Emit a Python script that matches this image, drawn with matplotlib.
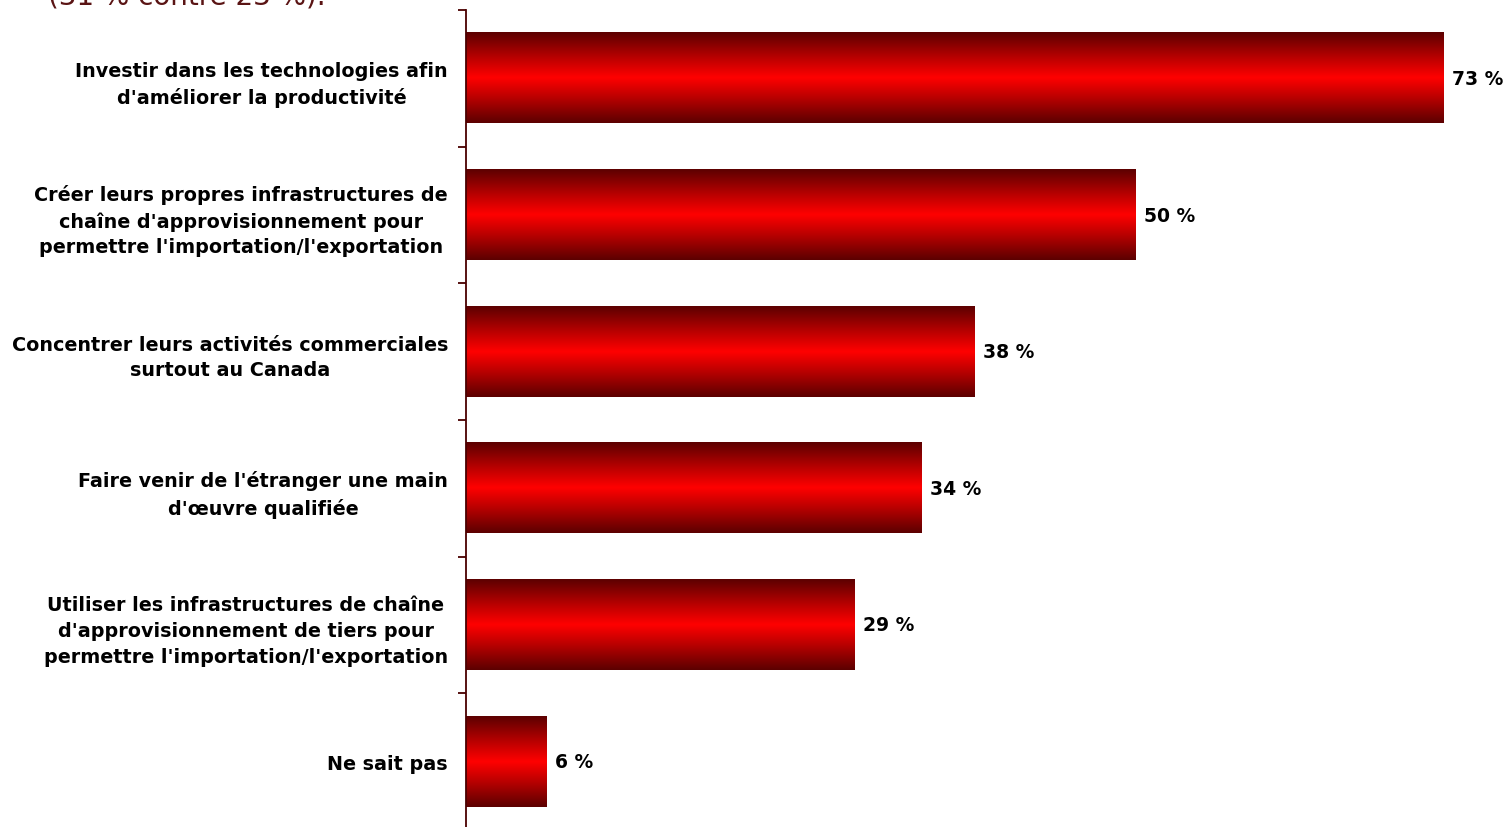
import numpy as np
import matplotlib
matplotlib.use("Agg")
import matplotlib.pyplot as plt
from matplotlib.colors import LinearSegmentedColormap

categories = [
    "Investir dans les technologies afin\nd'améliorer la productivité",
    "Créer leurs propres infrastructures de\nchaîne d'approvisionnement pour\npermettre l'importation/l'exportation",
    "Concentrer leurs activités commerciales\nsurtout au Canada",
    "Faire venir de l'étranger une main\nd'œuvre qualifiée",
    "Utiliser les infrastructures de chaîne\nd'approvisionnement de tiers pour\npermettre l'importation/l'exportation",
    "Ne sait pas",
]
values = [73, 50, 38, 34, 29, 6]
value_labels = ["73 %", "50 %", "38 %", "34 %", "29 %", "6 %"]
header = "(31 % contre 23 %)."

AXIS_COL = "#4a0000"
grad = LinearSegmentedColormap.from_list(
    "bar", [(0, "#5c0000"), (0.3, "#c00000"), (0.5, "#ff0000"),
            (0.7, "#c00000"), (1, "#5c0000")])

fig = plt.figure(figsize=(15.12, 8.28), dpi=100)
fig.patch.set_facecolor("white")
ax = fig.add_axes([466 / 1512, -3 / 828, 1044 / 1512, 820 / 828])

y = np.arange(len(values))
bars = ax.barh(y, values, height=0.66, color="none", edgecolor="none")
ax.set_xlim(0, 78)
ax.set_ylim(len(values) - 0.5, -0.5)

g = np.linspace(0, 1, 256).reshape(-1, 1)
for b in bars:
    x0, y0 = b.get_x(), b.get_y()
    ax.imshow(g, cmap=grad, aspect="auto", interpolation="bilinear",
              extent=(x0, x0 + b.get_width(), y0 + b.get_height(), y0), zorder=2)

for yi, v, lab in zip(y, values, value_labels):
    ax.text(v + 0.65, yi, lab, ha="left", va="center", fontsize=13.5,
            fontweight="bold", color="black")

for s in ["top", "right", "bottom"]:
    ax.spines[s].set_visible(False)
ax.spines["left"].set_color(AXIS_COL)
ax.spines["left"].set_linewidth(1.3)
ax.set_xticks([])
ax.set_yticks(y)
ax.set_yticklabels(categories, fontsize=13.8, fontweight="bold",
                   multialignment="center", linespacing=1.45)
ax.tick_params(axis="y", which="major", length=0, pad=13)
ax.set_yticks(np.arange(len(values) + 1) - 0.5, minor=True)
ax.tick_params(axis="y", which="minor", length=6, width=1.3, color=AXIS_COL,
               direction="out")

# header sentence from the page above, mostly cut off by the top edge
fig.text(48 / 1512, 1 - 4 / 828, header, ha="left", va="baseline",
         fontsize=20, color="#5a1414")

fig.savefig("out.png", dpi=100, facecolor="white")
